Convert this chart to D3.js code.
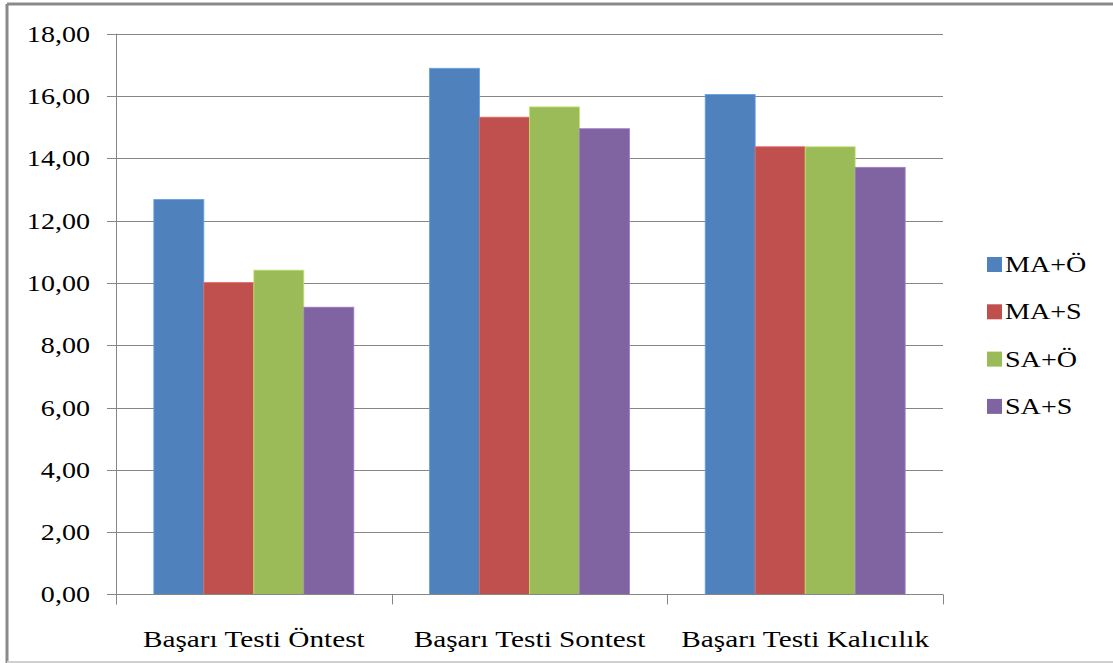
<!DOCTYPE html>
<meta charset="utf-8">
<head>
    <style>
        body { margin: 0; background: #fff; }
        text { font-family: 'Liberation Serif', 'Times New Roman', serif; fill: #000; }
        .grid line { stroke: #868686; stroke-width: 1; }
    </style>
</head>
<body>
    <svg width="1113" height="663"></svg>

    <script src="https://d3js.org/d3.v7.min.js"></script>
    <script type="text/javascript">

        // chart data
        var categories = ["Başarı Testi Öntest", "Başarı Testi Sontest", "Başarı Testi Kalıcılık"];
        var seriesNames = ["MA+Ö", "MA+S", "SA+Ö", "SA+S"];
        var seriesColors = ["#4F81BD", "#C0504D", "#9BBB59", "#8064A2"];
        var values = [
            [12.68, 16.89, 16.05],   // MA+Ö
            [10.01, 15.32, 14.37],   // MA+S
            [10.41, 15.65, 14.37],   // SA+Ö
            [9.22, 14.95, 13.71]     // SA+S
        ];
        var yTicks = [0, 2, 4, 6, 8, 10, 12, 14, 16, 18];

        var svg = d3.select("svg");
        var fontSize = 24, stretch = 1.17;

        // outer frame
        svg.append("line").attr("x1", 7).attr("x2", 1113).attr("y1", 4).attr("y2", 4)
            .attr("stroke", "#8a8a8a").attr("stroke-width", 3);
        svg.append("line").attr("x1", 7).attr("x2", 7).attr("y1", 4).attr("y2", 663)
            .attr("stroke", "#8a8a8a").attr("stroke-width", 3);
        svg.append("line").attr("x1", 7).attr("x2", 1113).attr("y1", 662).attr("y2", 662)
            .attr("stroke", "#d0d0d0").attr("stroke-width", 2);

        var plotLeft = 116, plotRight = 943, plotTop = 33.7, plotBottom = 594.4;

        var y = d3.scaleLinear().domain([0, 18]).range([plotBottom, plotTop]);
        var x0 = d3.scaleBand().domain(categories).range([plotLeft, plotRight]).paddingInner(0).paddingOuter(0);
        var x1 = d3.scaleBand().domain(seriesNames)
            .range([0, x0.bandwidth()]).paddingOuter(0.757).paddingInner(0);

        // gridlines + y ticks
        var grid = svg.append("g").attr("class", "grid");
        grid.selectAll("line").data(yTicks).enter().append("line")
            .attr("x1", plotLeft - 9).attr("x2", plotRight)
            .attr("y1", function (d) { return Math.round(y(d)) + 0.5; })
            .attr("y2", function (d) { return Math.round(y(d)) + 0.5; });

        svg.append("g").selectAll("text").data(yTicks).enter().append("text")
            .attr("transform", function (d) { return "translate(90," + (y(d) + 8) + ") scale(" + stretch + ",1)"; })
            .attr("text-anchor", "end")
            .style("font-size", fontSize + "px")
            .text(function (d) { return d3.format(".2f")(d).replace(".", ","); });

        // bars
        seriesNames.forEach(function (s, si) {
            svg.append("g").selectAll("rect").data(categories).enter().append("rect")
                .attr("x", function (c) { return x0(c) + x1(s); })
                .attr("y", function (c, ci) { return y(values[si][ci]); })
                .attr("width", x1.bandwidth())
                .attr("height", function (c, ci) { return plotBottom - y(values[si][ci]); })
                .attr("fill", seriesColors[si])
                .attr("stroke", d3.color(seriesColors[si]).brighter(0.6))
                .attr("stroke-width", 0.8);
        });

        // axes lines
        svg.append("line").attr("x1", plotLeft + 0.5).attr("x2", plotLeft + 0.5).attr("y1", plotTop).attr("y2", plotBottom + 10)
            .attr("stroke", "#868686");
        svg.append("line").attr("x1", plotLeft).attr("x2", plotRight)
            .attr("y1", Math.round(plotBottom) + 0.5).attr("y2", Math.round(plotBottom) + 0.5)
            .attr("stroke", "#868686");
        var bounds = categories.map(function (c) { return x0(c); }).concat([plotRight]);
        svg.append("g").selectAll("line").data(bounds).enter().append("line")
            .attr("x1", function (d) { return Math.round(d) + 0.5; })
            .attr("x2", function (d) { return Math.round(d) + 0.5; })
            .attr("y1", plotBottom).attr("y2", plotBottom + 10)
            .attr("stroke", "#868686");

        // category labels
        svg.append("g").selectAll("text").data(categories).enter().append("text")
            .attr("transform", function (c) { return "translate(" + (x0(c) + x0.bandwidth() / 2) + ",647) scale(1.22,1)"; })
            .attr("text-anchor", "middle")
            .style("font-size", fontSize + "px")
            .text(function (c) { return c; });

        // legend
        var legend = svg.append("g").selectAll("g").data(seriesNames).enter().append("g")
            .attr("transform", function (d, i) { return "translate(987," + (257 + i * 47.3) + ")"; });
        legend.append("rect").attr("width", 15).attr("height", 15)
            .attr("fill", function (d, i) { return seriesColors[i]; });
        legend.append("text")
            .attr("transform", "translate(18,15) scale(" + stretch + ",1)")
            .style("font-size", fontSize + "px")
            .text(function (d) { return d; });

    </script>
</body>
